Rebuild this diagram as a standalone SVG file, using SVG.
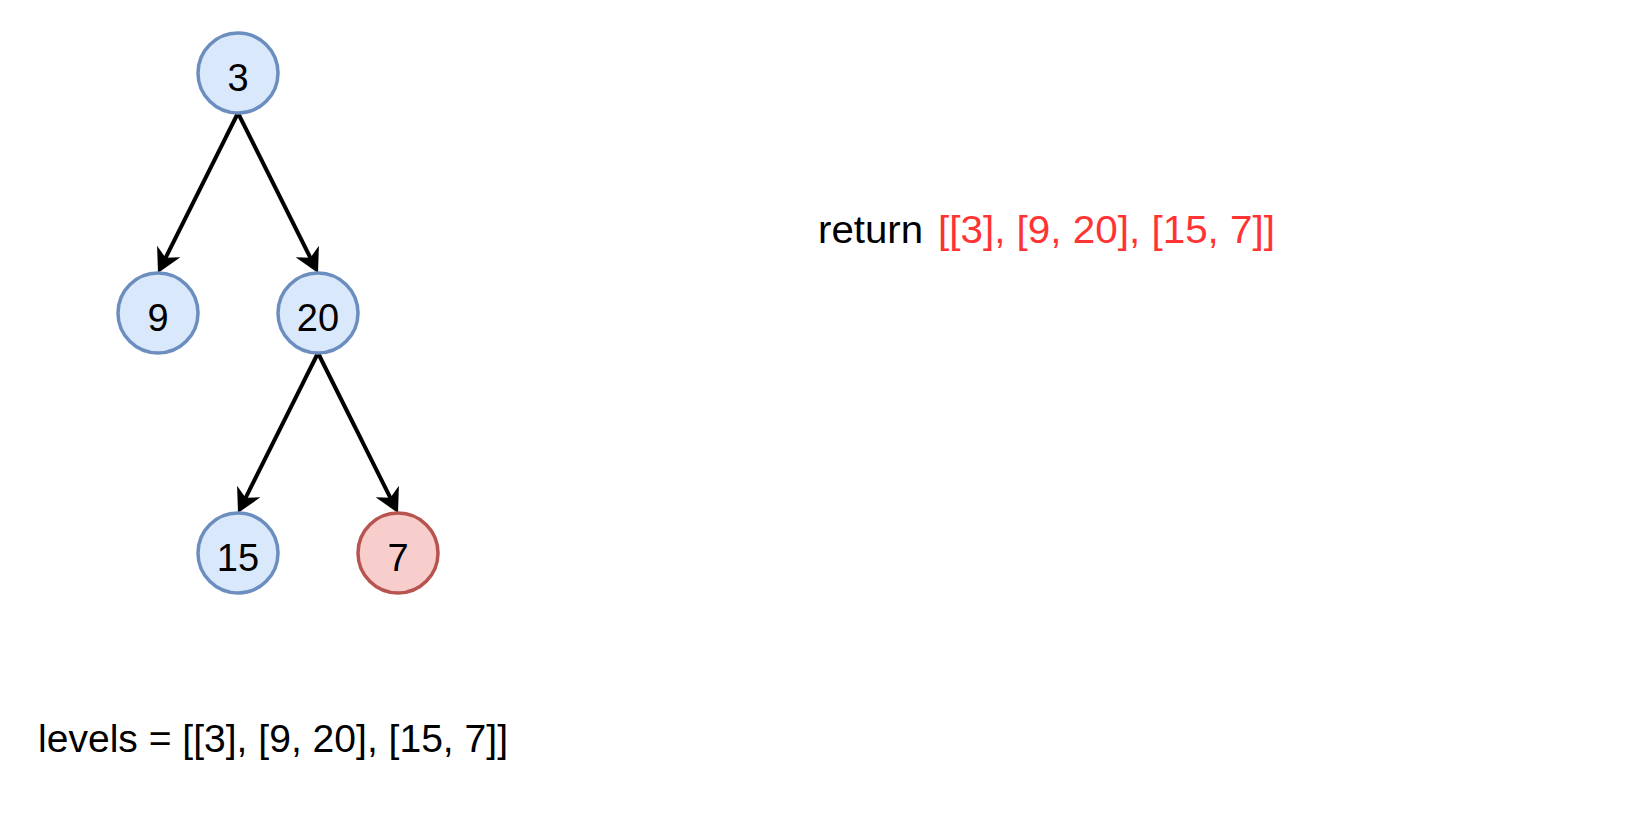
<svg xmlns="http://www.w3.org/2000/svg" width="1634" height="832" viewBox="0 0 1634 832">
<style>
.blue{fill:#dae8fc;stroke:#6c8ebf;stroke-width:3.5}
.red{fill:#f8cecc;stroke:#b85450;stroke-width:3.5}
.lbl{font-family:"Liberation Sans",Arial,sans-serif;font-size:38px;fill:#000;text-anchor:middle}
.txt{font-family:"Liberation Sans",Arial,sans-serif;font-size:38px;fill:#000}
.edge{stroke:#000;stroke-width:4;fill:none;marker-end:url(#arr)}
</style>
<defs>
<marker id="arr" markerUnits="userSpaceOnUse" markerWidth="30" markerHeight="30" refX="7" refY="0" viewBox="-2 -15 30 30" orient="auto" overflow="visible">
<path d="M24,0 L0,-13 L7,0 L0,13 Z" fill="#000"/>
</marker>
</defs>
<rect width="1634" height="832" fill="#fff"/>
<g id="connectors">
<path class="edge" d="M238,113 L165.6,257.8"/>
<path class="edge" d="M238,113 L310.4,257.8"/>
<path class="edge" d="M318,353 L245.6,497.8"/>
<path class="edge" d="M318,353 L390.4,497.8"/>
</g>
<g id="node3"><circle class="blue" cx="238" cy="73" r="40"/><text class="lbl" x="238" y="91">3</text></g>
<g id="node9"><circle class="blue" cx="158" cy="313" r="40"/><text class="lbl" x="158" y="331">9</text></g>
<g id="node20"><circle class="blue" cx="318" cy="313" r="40"/><text class="lbl" x="318" y="331">20</text></g>
<g id="node15"><circle class="blue" cx="238" cy="553" r="40"/><text class="lbl" x="238" y="571">15</text></g>
<g id="node7"><circle class="red" cx="398" cy="553" r="40"/><text class="lbl" x="398" y="571">7</text></g>
<g id="levels"><text class="txt" x="38" y="752" textLength="470" lengthAdjust="spacingAndGlyphs">levels = [[3], [9, 20], [15, 7]]</text></g>
<g id="return">
<text class="txt" x="818" y="243" textLength="105" lengthAdjust="spacingAndGlyphs">return</text>
<text class="txt" x="938" y="243" textLength="337" lengthAdjust="spacingAndGlyphs" style="fill:#ff3333">[[3], [9, 20], [15, 7]]</text>
</g>
</svg>
